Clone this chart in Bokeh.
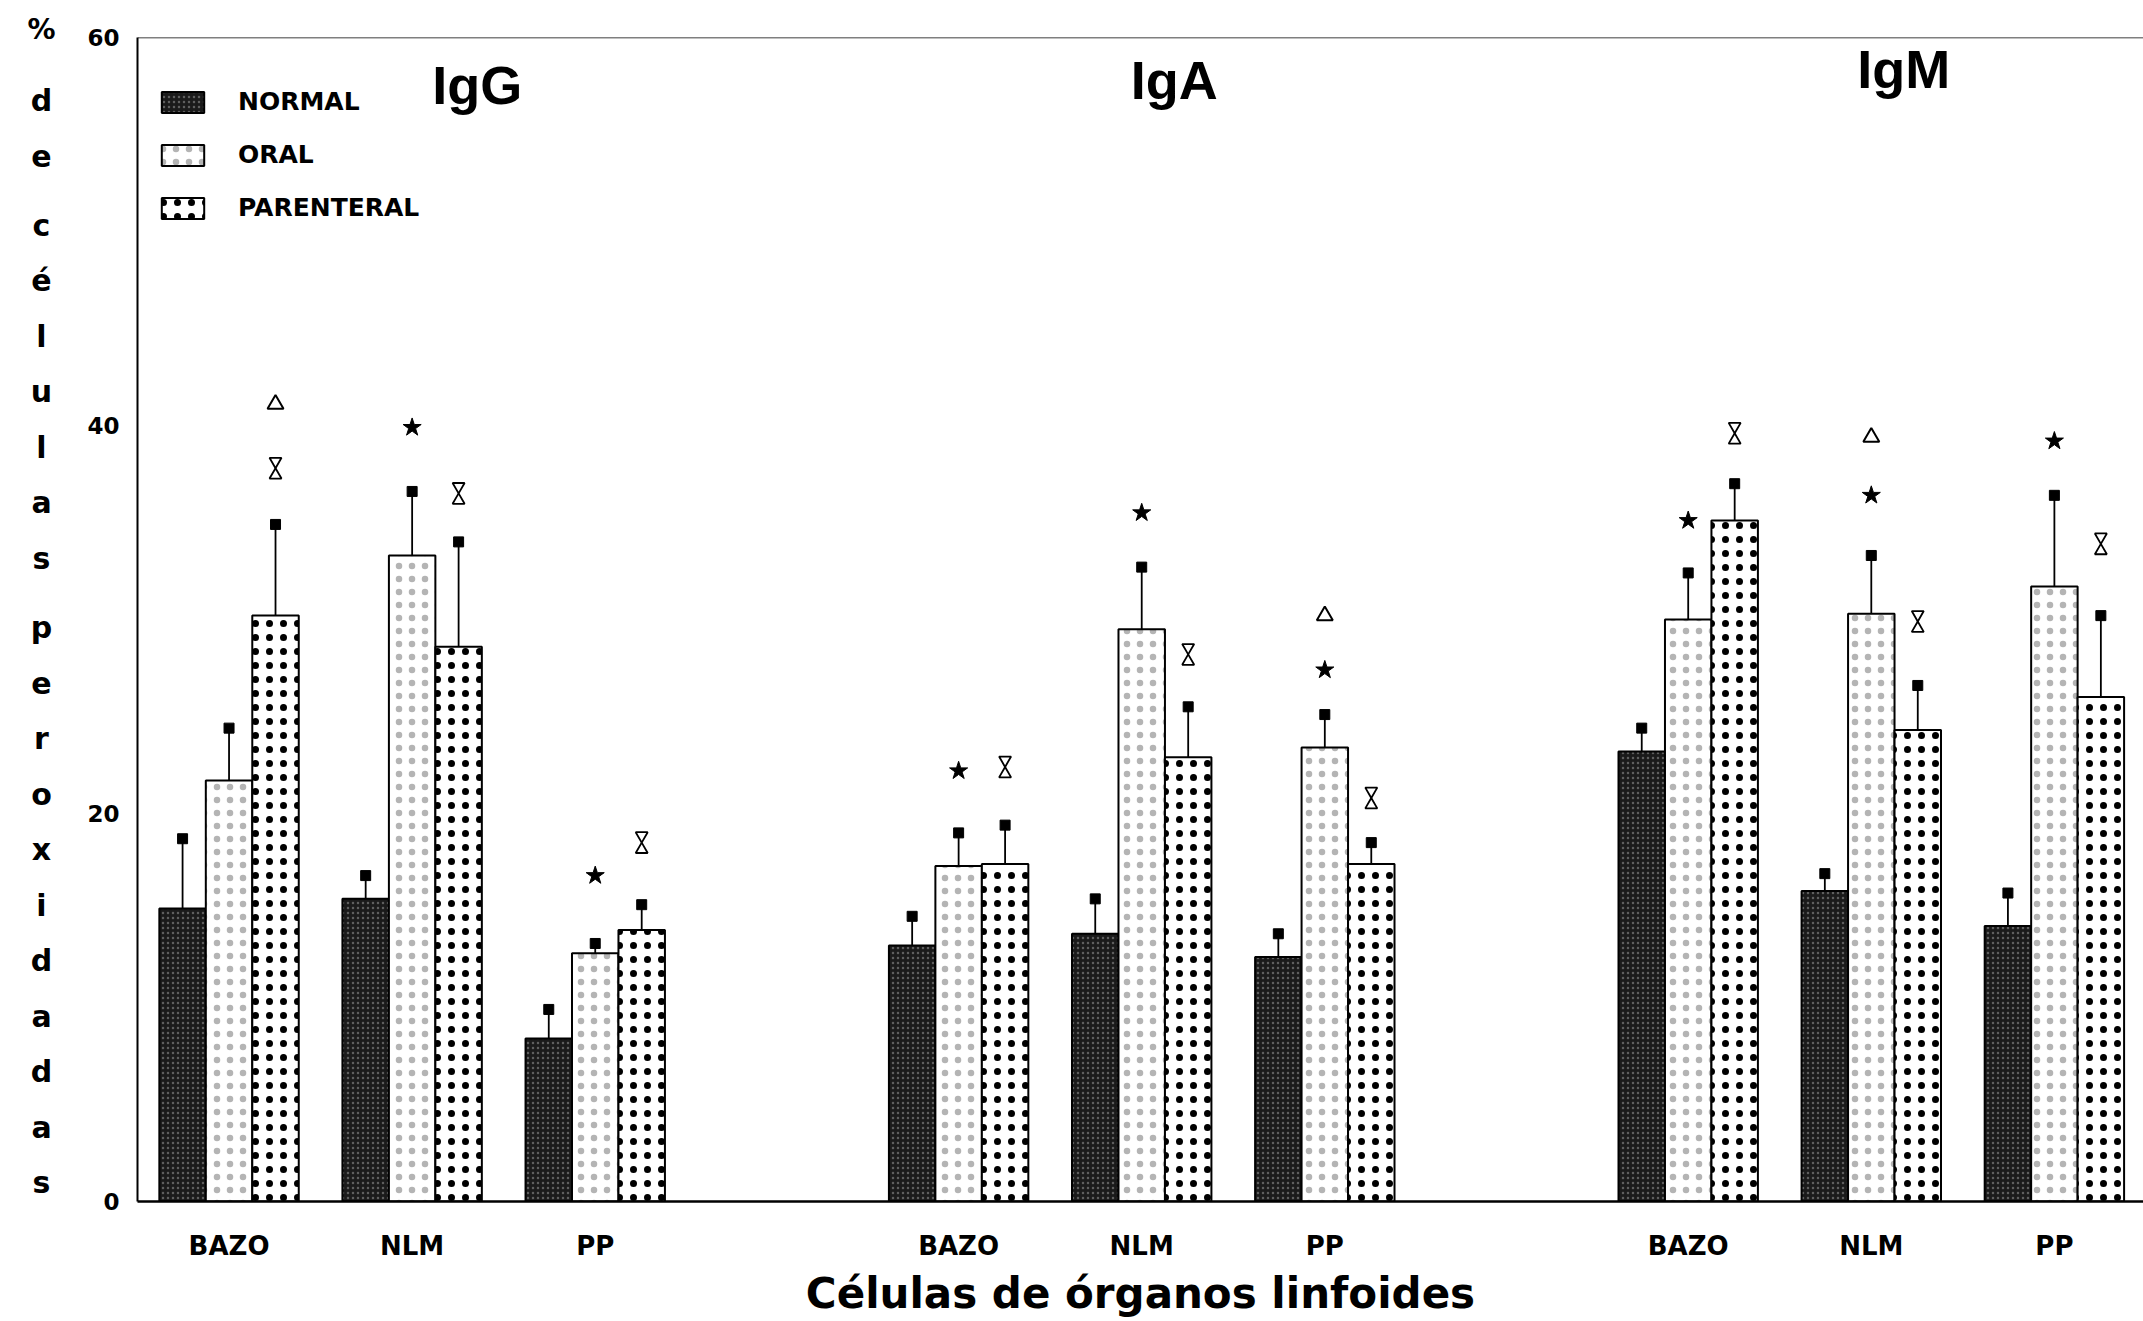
from bokeh.plotting import figure
from bokeh.models import (Range1d, Label, Legend, LegendItem, FixedTicker,
                          ColumnDataSource, Span, LinearAxis)
from bokeh.layouts import row
from bokeh.core.properties import value
from bokeh.embed import file_html
from bokeh.resources import INLINE

# ---------------- data ----------------
ig_classes = ["IgG", "IgA", "IgM"]
organs = ["BAZO", "NLM", "PP"]
groups = ["NORMAL", "ORAL", "PARENTERAL"]
y_ticks = [0, 20, 40, 60]
y_title = "% de células peroxidadas"
x_title = "Células de órganos linfoides"

# order: IgG(BAZO, NLM, PP), IgA(BAZO, NLM, PP), IgM(BAZO, NLM, PP)
normal_mean = [15.1, 15.6, 8.4, 13.2, 13.8, 12.6, 23.2, 16.0, 14.2]
normal_err = [3.6, 1.2, 1.5, 1.5, 1.8, 1.2, 1.2, 0.9, 1.7]
oral_mean = [21.7, 33.3, 12.8, 17.3, 29.5, 23.4, 30.0, 30.3, 31.7]
oral_err = [2.7, 3.3, 0.5, 1.7, 3.2, 1.7, 2.4, 3.0, 4.7]
par_mean = [30.2, 28.6, 14.0, 17.4, 22.9, 17.4, 35.1, 24.3, 26.0]
par_err = [4.7, 5.4, 1.3, 2.0, 2.6, 1.1, 1.9, 2.3, 4.2]

# significance symbols: (Ig class, organ, group) and height
star_cells = [("IgG", "NLM", "ORAL"), ("IgG", "PP", "ORAL"), ("IgA", "BAZO", "ORAL"),
              ("IgA", "NLM", "ORAL"), ("IgA", "PP", "ORAL"), ("IgM", "BAZO", "ORAL"),
              ("IgM", "NLM", "ORAL"), ("IgM", "PP", "ORAL")]
star_y = [39.9, 16.8, 22.2, 35.5, 27.4, 35.1, 36.4, 39.2]
hour_cells = [("IgG", "BAZO", "PARENTERAL"), ("IgG", "NLM", "PARENTERAL"), ("IgG", "PP", "PARENTERAL"),
              ("IgA", "BAZO", "PARENTERAL"), ("IgA", "NLM", "PARENTERAL"), ("IgA", "PP", "PARENTERAL"),
              ("IgM", "BAZO", "PARENTERAL"), ("IgM", "NLM", "PARENTERAL"), ("IgM", "PP", "PARENTERAL")]
hour_y = [37.8, 36.5, 18.5, 22.4, 28.2, 20.8, 39.6, 29.9, 33.9]
tri_cells = [("IgG", "BAZO", "PARENTERAL"), ("IgA", "PP", "ORAL"), ("IgM", "NLM", "ORAL")]
tri_y = [41.1, 30.2, 39.4]

# ---------------- layout ----------------
W, H = 2143, 1321
LW = 80                       # strip on the left holding the stacked y title
BL, BR, BT, BB = 137 - LW, 0, 37, 120
FRAME_W = W - LW - BL - BR
FRAME_H = H - BT - BB
X0, ORGAN_STEP, IG_STEP, BAR_W = 0.47, 3.94, 15.7, 1.0
PX_PER_X = 46.47
XMAX, YMAX = FRAME_W / PX_PER_X, 60
PX_PER_UNIT = FRAME_H / YMAX
BOLD = "DejaVu Sans"


def bar_x(ig, org, grp):
    return X0 + ig * IG_STEP + org * ORGAN_STEP + grp * BAR_W + BAR_W / 2


def cell_x(cell):
    ig, org, grp = cell
    return bar_x(ig_classes.index(ig), organs.index(org), groups.index(grp))


p = figure(width=W - LW, height=H, output_backend="svg", toolbar_location=None,
           x_range=Range1d(0, XMAX), y_range=Range1d(0, YMAX),
           min_border_left=BL, min_border_right=BR, min_border_top=BT,
           min_border_bottom=BB)
p.background_fill_color = "white"
p.border_fill_color = "white"
p.outline_line_color = None
p.xgrid.visible = False
p.ygrid.visible = False

styles = [
    dict(fill_color="#1a1a1a", hatch_pattern="dot", hatch_color="#5e5e5e",
         hatch_scale=5, hatch_weight=1),
    dict(fill_color="white", hatch_pattern="dot", hatch_color="#777777",
         hatch_scale=13, hatch_weight=1, hatch_alpha=0.55),
    dict(fill_color="white", hatch_pattern="dot", hatch_color="black",
         hatch_scale=14, hatch_weight=7),
]
means = [normal_mean, oral_mean, par_mean]
errs = [normal_err, oral_err, par_err]

renderers = []
for g, (m, e, st) in enumerate(zip(means, errs, styles)):
    xs = [bar_x(i // 3, i % 3, g) for i in range(9)]
    src = ColumnDataSource(dict(x=xs, top=m, cap=[a + b for a, b in zip(m, e)]))
    r = p.vbar(x="x", top="top", bottom=0, width=BAR_W, source=src,
               line_color="black", line_width=2, **st)
    renderers.append(r)
    p.segment(x0="x", y0="top", x1="x", y1="cap", source=src,
              line_color="black", line_width=1.8)
    p.scatter(x="x", y="cap", source=src, marker="square", size=10,
              fill_color="black", line_color="black")

# significance symbols
p.scatter(x=[cell_x(c) for c in star_cells], y=star_y, marker="star", size=19,
          fill_color="black", line_color="black")
p.scatter(x=[cell_x(c) for c in tri_cells], y=tri_y, marker="triangle", size=16,
          fill_color="white", line_color="black", line_width=2)
d = (12 / 2 * 3 ** 0.5) * 2 / 3 / PX_PER_UNIT
hx = [cell_x(c) for c in hour_cells]
p.scatter(x=hx, y=[v + d for v in hour_y], marker="inverted_triangle", size=12,
          fill_color="white", line_color="black", line_width=1.8)
p.scatter(x=hx, y=[v - d for v in hour_y], marker="triangle", size=12,
          fill_color="white", line_color="black", line_width=1.8)

# top frame line
p.add_layout(Span(location=YMAX, dimension="width", line_color="black", line_width=1.5))

# axes
p.yaxis.ticker = FixedTicker(ticks=y_ticks)
p.yaxis.major_tick_line_color = None
p.yaxis.minor_tick_line_color = None
p.yaxis.axis_line_width = 2
p.yaxis.axis_line_color = "black"
p.yaxis.major_label_text_font = BOLD
p.yaxis.major_label_text_font_style = "bold"
p.yaxis.major_label_text_font_size = "23px"
p.yaxis.major_label_text_color = "black"
p.yaxis.major_label_standoff = 12

centers = [X0 + i * IG_STEP + o * ORGAN_STEP + 1.5 * BAR_W for i in range(3) for o in range(3)]
p.xaxis.ticker = FixedTicker(ticks=centers)
p.xaxis.major_label_overrides = {c: organs[k % 3] for k, c in enumerate(centers)}
p.xaxis.major_tick_line_color = None
p.xaxis.minor_tick_line_color = None
p.xaxis.axis_line_width = 2.5
p.xaxis.axis_line_color = "black"
p.xaxis.major_label_text_font = BOLD
p.xaxis.major_label_text_font_style = "bold"
p.xaxis.major_label_text_font_size = "26px"
p.xaxis.major_label_text_color = "black"
p.xaxis.major_label_standoff = 23
p.xaxis.axis_label = x_title
p.xaxis.axis_label_text_font = BOLD
p.xaxis.axis_label_text_font_style = "bold"
p.xaxis.axis_label_text_font_size = "42px"
p.xaxis.axis_label_standoff = 5
p.xaxis.axis_label_text_color = "black"

# Ig class titles
ig_offsets = [1.4, 0.7, 0.7]
ig_base_px = [84, 79, 68]
for i, name in enumerate(ig_classes):
    cx = X0 + i * IG_STEP + ORGAN_STEP + 1.5 * BAR_W + ig_offsets[i]
    p.add_layout(Label(x=cx, y=YMAX - (ig_base_px[i] - BT) / PX_PER_UNIT,
                       text=name, text_align="center", text_baseline="alphabetic",
                       text_font="Liberation Sans", text_font_style="bold",
                       text_font_size="54px", text_color="black"))

# legend
legend = Legend(items=[LegendItem(label=g, renderers=[r]) for g, r in zip(groups, renderers)],
                location=(19, FRAME_H - 185), orientation="vertical",
                glyph_width=53, glyph_height=26, label_height=26, spacing=24,
                label_standoff=29, padding=0, margin=0,
                border_line_color=None, background_fill_alpha=0,
                label_text_font=BOLD, label_text_font_style="bold",
                label_text_font_size="25px", label_text_baseline="middle",
                label_text_color="black")
p.add_layout(legend)

# ---------------- stacked y title in a left strip ----------------
# (the strip's plotting area is aligned with the main one: BT .. BT + FRAME_H)
STEP, GAP = 55.5, 14
letters, letter_y = [], []
ypos = 30.0
for w_i, word in enumerate(y_title.split(" ")):
    if w_i:
        ypos += GAP
    for ch in word:
        if letters:
            ypos += STEP
        letters.append(ch)
        letter_y.append(ypos)

LETTER_X = 41
left = figure(width=LW, height=H, output_backend="svg", toolbar_location=None,
              x_range=Range1d(0, LW), y_range=Range1d(BT + FRAME_H, BT),
              x_axis_type=None, y_axis_type=None,
              min_border_left=0, min_border_right=0, min_border_top=BT,
              min_border_bottom=BB)
left.outline_line_color = None
left.background_fill_color = "white"
left.border_fill_color = "white"
# first symbol ("%") sits above the plotting area: shown as a label of a bare top axis
top_axis = LinearAxis(ticker=FixedTicker(ticks=[LETTER_X]),
                      major_label_overrides={LETTER_X: letters[0]},
                      axis_line_color=None, major_tick_line_color=None,
                      minor_tick_line_color=None, major_tick_out=0, major_tick_in=0,
                      minor_tick_out=0, minor_tick_in=0, major_label_standoff=-8,
                      major_label_text_font=BOLD, major_label_text_font_style="bold",
                      major_label_text_font_size="28px", major_label_text_color="black")
left.add_layout(top_axis, "above")
left.text(x=[LETTER_X] * (len(letters) - 1), y=letter_y[1:], text=letters[1:],
          text_align="center", text_baseline="middle",
          text_font=value(BOLD), text_font_style="bold",
          text_font_size="30px", text_color="black")

layout = row(left, p)
open("out.html", "w").write(file_html(layout, INLINE))
